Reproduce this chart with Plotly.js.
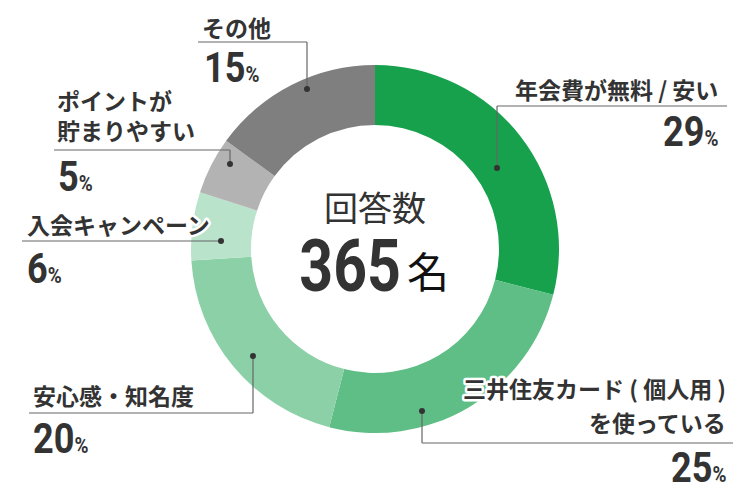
<!DOCTYPE html>
<html>
<head>
<meta charset="utf-8">
<script src="https://cdn.plot.ly/plotly-3.0.1.min.js"></script>
<style>
  html, body { margin: 0; padding: 0; background: #fff; }
  #chart { width: 750px; height: 500px; }
</style>
</head>
<body>
<div id="chart"></div>
<script>
// Reasons for choosing the card (n = 365), clockwise from 12 o'clock
const categories = ['年会費が無料 / 安い', '三井住友カード ( 個人用 )<br>を使っている', '安心感・知名度', '入会キャンペーン', 'ポイントが<br>貯まりやすい', 'その他'];
const values = [29, 25, 20, 6, 5, 15];
const sliceColors = ['#17a14d', '#5ebe85', '#8cd0a7', '#b9e3cb', '#b3b3b3', '#7f7f7f'];
const totalLabel = '回答数';
const totalCount = 365;
const totalUnit = '名';

const W = 750, H = 500;
const TEXT = '#333333';
const JP = '"Noto Sans CJK JP", "Noto Sans", sans-serif';
const NUM = '"Roboto", "Noto Sans", sans-serif';

// label placement in pixels: dot on the ring, elbow, line end, text anchors.
// ty with one value = one text block (lines joined by <br>), several = one text per line
const callouts = [
    { dot: [497, 168], elbow: [497, 106], end: [727, 106], side: 'right', tx: 720, ty: [89], px: 720, py: 131 },
    { dot: [422, 411], elbow: [422, 443], end: [733, 443], side: 'right', tx: 728, ty: [388, 422], px: 728, py: 467, halo: true },
    { dot: [253, 356], elbow: [253, 413], end: [29, 413], side: 'left', tx: 31, ty: [395], px: 31, py: 438 },
    { dot: [221, 241], elbow: [221, 241], end: [22, 241], side: 'left', tx: 25, ty: [224], px: 25, py: 268, halo: true },
    { dot: [230, 164], elbow: [230, 150], end: [54, 150], side: 'left', tx: 55, ty: [115], px: 56, py: 176 },
    { dot: [307, 89], elbow: [307, 42], end: [198, 42], side: 'left', tx: 200, ty: [27], px: 202, py: 67 },
];

const px = x => x / W;
const py = y => 1 - y / H;

const trace = {
    type: 'pie',
    labels: categories,
    values: values,
    marker: { colors: sliceColors, line: { width: 0 } },
    hole: 0.674,
    sort: false,
    direction: 'clockwise',
    rotation: 0,
    textinfo: 'none',
    hoverinfo: 'skip',
    showlegend: false,
    domain: { x: [0, 1], y: [0.134, 0.87] },
};

const shapes = [];
const annotations = [];
const haloIdx = [];     // annotations that need a white outline
const squeeze = [];     // [annotation index, x scale, anchor side] for the condensed numbers

callouts.forEach((c, i) => {
    const line = { color: '#666666', width: 1.2 };
    shapes.push({ type: 'line', xref: 'paper', yref: 'paper', x0: px(c.dot[0]), y0: py(c.dot[1]), x1: px(c.elbow[0]), y1: py(c.elbow[1]), line });
    shapes.push({ type: 'line', xref: 'paper', yref: 'paper', x0: px(c.elbow[0]), y0: py(c.elbow[1]), x1: px(c.end[0]), y1: py(c.end[1]), line });
    shapes.push({
        type: 'circle', xref: 'paper', yref: 'paper',
        x0: px(c.dot[0] - 3), x1: px(c.dot[0] + 3), y0: py(c.dot[1] - 3), y1: py(c.dot[1] + 3),
        fillcolor: TEXT, line: { width: 0 },
    });

    const lines = c.ty.length > 1 ? categories[i].split('<br>') : [categories[i]];
    lines.forEach((txt, k) => {
        if (c.halo) haloIdx.push(annotations.length);
        annotations.push({
            xref: 'paper', yref: 'paper', x: px(c.tx), y: py(c.ty[k]),
            xanchor: c.side, yanchor: 'middle', align: c.side,
            text: txt, showarrow: false,
            font: { family: JP, size: 23, color: TEXT, weight: 700 },
        });
    });

    squeeze.push([annotations.length, 0.86, c.side]);
    annotations.push({
        xref: 'paper', yref: 'paper', x: px(c.px), y: py(c.py),
        xanchor: c.side, yanchor: 'middle', align: c.side,
        text: `${values[i]}<span style="font-size:22px">%</span>`, showarrow: false,
        font: { family: NUM, size: 42, color: TEXT, weight: 700 },
    });
});

// centre of the donut
annotations.push({
    xref: 'paper', yref: 'paper', x: px(375), y: py(207), xanchor: 'center', yanchor: 'middle',
    text: totalLabel, showarrow: false,
    font: { family: JP, size: 34, color: TEXT, weight: 400 },
});
squeeze.push([annotations.length, 0.82, 'right']);
annotations.push({
    xref: 'paper', yref: 'paper', x: px(403), y: py(266), xanchor: 'right', yanchor: 'middle',
    text: String(totalCount), showarrow: false,
    font: { family: NUM, size: 72, color: TEXT, weight: 700 },
});
annotations.push({
    xref: 'paper', yref: 'paper', x: px(405), y: py(269), xanchor: 'left', yanchor: 'middle',
    text: totalUnit, showarrow: false,
    font: { family: JP, size: 42, color: '#111111', weight: 400 },
});

const layout = {
    width: W, height: H,
    margin: { l: 0, r: 0, t: 0, b: 0 },
    paper_bgcolor: '#ffffff',
    shapes, annotations,
};

Plotly.newPlot('chart', [trace], layout, { displayModeBar: false, staticPlot: true }).then(gd => {
    const textOf = i => gd.querySelector(`.annotation[data-index="${i}"] text`);

    // white halo on the labels that sit over the ring
    haloIdx.forEach(i => {
        const t = textOf(i);
        if (!t) return;
        t.style.stroke = '#ffffff';
        t.style.strokeWidth = '5px';
        t.style.strokeLinejoin = 'round';
        t.style.paintOrder = 'stroke';
    });

    // condensed look for the big numbers, keeping the anchored edge in place
    squeeze.forEach(([i, s, side]) => {
        const t = textOf(i);
        if (!t) return;
        const b = t.getBBox();
        const ax = side === 'right' ? b.x + b.width : b.x;
        const prev = t.getAttribute('transform');
        const mine = `translate(${ax},0) scale(${s},1) translate(${-ax},0)`;
        t.setAttribute('transform', prev ? `${prev} ${mine}` : mine);
    });
});
</script>
</body>
</html>
